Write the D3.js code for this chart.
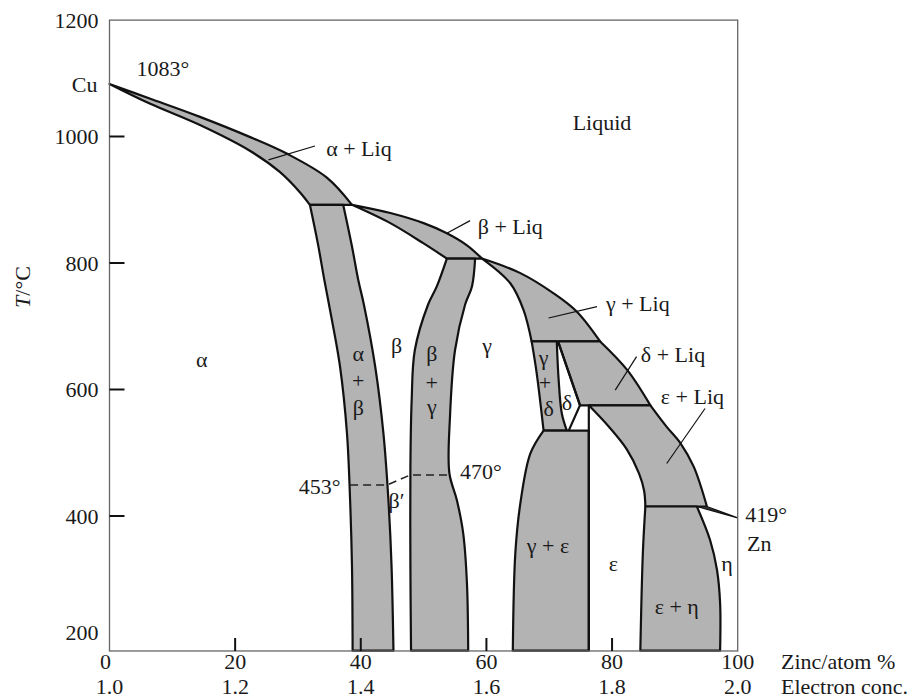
<!DOCTYPE html>
<html>
<head>
<meta charset="utf-8">
<script src="https://cdn.jsdelivr.net/npm/d3@7"></script>
<style>
  body { margin: 0; background: #fff; }
  text { font-family: "Liberation Serif", "DejaVu Serif", serif; font-size: 22px; fill: #1a1a1a; }
</style>
</head>
<body>
<div id="chart"></div>
<script>
// axis ticks
const znTicks = [0, 20, 40, 60, 80, 100];
const econcTicks = [1.0, 1.2, 1.4, 1.6, 1.8, 2.0];
const tempTicks = [200, 400, 600, 800, 1000, 1200];
const tempMarks = [400, 600, 800, 1000];
const tTop = 1184, tBottom = 186.6;

// phase boundaries, [Zn atom %, T in °C]
const liqAlpha   = [[0,1083],[6.4,1060],[14.4,1031],[22.4,999],[28.2,973],[34.6,935],[38.6,892]];
const solAlpha   = [[0,1083],[6.4,1052],[14.4,1018],[22.4,977],[27.1,944],[30.3,912],[31.9,892]];
const alphaSolvus= [[31.9,892],[33.2,829],[34.2,773],[35.1,726],[36.7,636],[37.8,531],[38.3,425],[38.6,320],[38.7,187]];
const betaLeft   = [[37.2,892],[38.6,826],[39.6,773],[40.5,734],[42.3,636],[43.6,531],[44.4,425],[44.9,320],[45.2,187]];
const liqBeta    = [[38.6,892],[44.7,879],[50.0,863],[53.7,847],[56.9,828],[59.3,807]];
const solBeta    = [[38.6,892],[44.7,863],[50.0,831],[53.7,807]];
const betaRight  = [[53.7,807],[52.1,763],[50.7,734],[48.6,662],[48.1,583],[47.9,478],[47.9,320],[48.0,187]];
const gammaLeft  = [[58.2,807],[57.7,763],[56.6,734],[55.0,662],[54.2,557],[54.1,468],[55.3,425],[56.3,373],[56.9,294],[57.1,187]];
const liqGamma   = [[59.3,807],[65.4,784],[70.7,752],[74.4,723],[78.1,676]];
const solGamma   = [[59.3,807],[63.8,768],[65.9,726],[67.2,676]];
const gammaDelta = [[67.2,676],[68.0,626],[69.1,535]];
const deltaLeft  = [[71.2,676],[71.5,615],[72.0,562],[72.8,535]];
const deltaRight = [[71.4,676],[74.9,575],[73.1,535]];
const liqDelta   = [[78.1,676],[82.4,631],[86.1,575]];
const epsLeft    = [[76.3,575],[76.3,187]];
const gammaEps   = [[69.1,535],[67.0,499],[65.4,420],[64.6,341],[64.2,187]];
const liqEps     = [[86.1,575],[88.7,541],[90.9,515],[93.0,478],[95.1,415]];
const solEps     = [[76.3,575],[79.5,541],[82.3,506],[84.3,467],[85.1,440],[85.3,415]];
const epsEta     = [[85.3,415],[84.9,341],[84.5,187]];
const etaSolvus  = [[93.5,415],[95.6,362],[96.7,315],[97.2,262],[97.2,187]];
const etaLiq     = [[93.5,415],[95.1,415],[100,397]];
const orderLine  = [[38.3,449],[44.2,449],[47.9,465],[54.1,465]];

// labels [text, Zn %, T]
const labels = [
  ["Liquid", 78.4, 1022], ["α + Liq", 39.7, 982], ["β + Liq", 63.8, 858],
  ["γ + Liq", 84.1, 737], ["δ + Liq", 89.7, 655], ["ε + Liq", 92.8, 590],
  ["α", 14.7, 647], ["α", 39.6, 658], ["+", 39.6, 615], ["β", 39.6, 572],
  ["β", 45.7, 670], ["β", 51.3, 658], ["+", 51.3, 612], ["γ", 51.3, 573],
  ["γ", 60.1, 670], ["γ", 69.1, 651], ["+", 69.3, 612], ["δ", 69.9, 571],
  ["δ", 72.8, 579], ["β′", 45.7, 425], ["γ + ε", 69.8, 354], ["ε", 80.2, 325],
  ["ε + η", 90.3, 257], ["η", 98.3, 325]
];
const leaders = [
  [[25.3,963],[32.7,985]], [[53.7,847],[57.4,867]], [[69.9,713],[77.6,731]],
  [[80.5,599],[83.9,652]], [[88.7,483],[94.8,570]]
];

const svg = d3.select("#chart").append("svg")
  .attr("width", 912).attr("height", 698);

const x = d3.scaleLinear().domain([0, 100]).range([109.5, 737.7]);
const xe = d3.scaleLinear().domain([1, 2]).range([109.5, 737.7]);
const y = d3.scaleLinear().domain([200, 1200]).range([642.5, 10]);

const smooth = d3.line().x(d => x(d[0])).y(d => y(d[1])).curve(d3.curveCatmullRom.alpha(0.5));
const straight = d3.line().x(d => x(d[0])).y(d => y(d[1]));
const rev = a => a.slice().reverse();

// join boundary pieces into one closed outline
function region(...segs) {
  return segs.map((s, i) => {
    const p = smooth(s);
    return i > 0 ? "L" + p.slice(1) : p;
  }).join("") + "Z";
}

const regions = [
  region(liqAlpha, [[38.6,892],[31.9,892]], rev(solAlpha)),
  region([[31.9,892],[37.2,892]], betaLeft, [[45.2,187],[38.7,187]], rev(alphaSolvus)),
  region(liqBeta, [[59.3,807],[53.7,807]], rev(solBeta)),
  region([[53.7,807],[58.2,807]], gammaLeft, [[57.1,187],[48.0,187]], rev(betaRight)),
  region(liqGamma, [[78.1,676],[67.2,676]], rev(solGamma)),
  region([[67.2,676],[71.2,676]], deltaLeft, [[72.8,535],[69.1,535]], rev(gammaDelta)),
  region([[71.4,676],[78.1,676]], liqDelta, [[86.1,575],[74.9,575]], [[74.9,575],[71.4,676]]),
  region([[76.3,575],[86.1,575]], liqEps, [[95.1,415],[85.3,415]], rev(solEps)),
  region([[69.1,535],[76.3,535]], [[76.3,535],[76.3,187]], [[76.3,187],[64.2,187]], rev(gammaEps)),
  region([[85.3,415],[93.5,415]], etaSolvus, [[97.2,187],[84.5,187]], rev(epsEta))
];

svg.append("g").selectAll("path")
  .data(regions)
  .enter().append("path")
    .attr("d", d => d)
    .attr("fill", "#b3b3b3")
    .attr("stroke", "#111")
    .attr("stroke-width", 2.2)
    .attr("stroke-linejoin", "round");

// thin liquid + eta wedge at the Zn end
svg.append("path")
  .attr("d", straight(etaLiq) + "Z")
  .attr("fill", "#333").attr("stroke", "#111").attr("stroke-width", 1.2);

// lines not on a shaded edge
[deltaRight, epsLeft].forEach(l => {
  svg.append("path").attr("d", straight(l))
    .attr("fill", "none").attr("stroke", "#111").attr("stroke-width", 2.2);
});

svg.append("path").attr("d", straight(orderLine))
  .attr("fill", "none").attr("stroke", "#222").attr("stroke-width", 1.5)
  .attr("stroke-dasharray", "8,5");

// frame
svg.append("rect")
  .attr("x", x(0)).attr("y", y(tTop))
  .attr("width", x(100) - x(0)).attr("height", y(tBottom) - y(tTop))
  .attr("fill", "none").attr("stroke", "#666").attr("stroke-width", 1.3);

// tick marks
svg.append("g").selectAll("line").data(tempMarks).enter().append("line")
  .attr("x1", x(0)).attr("x2", x(0) + 15)
  .attr("y1", d => y(d)).attr("y2", d => y(d))
  .attr("stroke", "#111").attr("stroke-width", 2);
svg.append("g").selectAll("line").data(znTicks.slice(1, -1)).enter().append("line")
  .attr("x1", d => x(d)).attr("x2", d => x(d))
  .attr("y1", y(tBottom)).attr("y2", y(tBottom) - 13)
  .attr("stroke", "#111").attr("stroke-width", 2);

// tick labels
svg.append("g").selectAll("text").data(tempTicks).enter().append("text")
  .attr("x", x(0) - 11)
  .attr("y", d => d === 1200 ? y(tTop) : d === 200 ? y(tBottom) - 19 : y(d))
  .attr("dy", "0.35em")
  .attr("text-anchor", "end")
  .text(d => d);
svg.append("g").selectAll("text").data(znTicks).enter().append("text")
  .attr("x", d => x(d) - (d === 0 ? 4 : 0)).attr("y", 669)
  .attr("text-anchor", "middle")
  .text(d => d);
svg.append("g").selectAll("text").data(econcTicks).enter().append("text")
  .attr("x", d => xe(d)).attr("y", 694)
  .attr("text-anchor", "middle")
  .text(d => d.toFixed(1));

svg.append("text").attr("x", 781).attr("y", 669).text("Zinc/atom %");
svg.append("text").attr("x", 781).attr("y", 694).text("Electron conc.");

const yt = svg.append("text")
  .attr("transform", "translate(30,287) rotate(-90)")
  .attr("text-anchor", "middle");
yt.append("tspan").attr("font-style", "italic").text("T");
yt.append("tspan").text("/°C");

// end points
svg.append("text").attr("x", x(0) - 12).attr("y", y(1083)).attr("dy", "0.35em")
  .attr("text-anchor", "end").text("Cu");
svg.append("text").attr("x", x(4.3)).attr("y", y(1108)).attr("dy", "0.35em").text("1083°");
svg.append("text").attr("x", x(101.2)).attr("y", y(402)).attr("dy", "0.35em").text("419°");
svg.append("text").attr("x", x(101.5)).attr("y", y(357)).attr("dy", "0.35em").text("Zn");
svg.append("text").attr("x", x(36.8)).attr("y", y(447)).attr("dy", "0.35em")
  .attr("text-anchor", "end").text("453°");
svg.append("text").attr("x", x(55.8)).attr("y", y(470)).attr("dy", "0.35em").text("470°");

// region labels
svg.append("g").selectAll("text").data(labels).enter().append("text")
  .attr("x", d => x(d[1])).attr("y", d => y(d[2]))
  .attr("dy", "0.35em")
  .attr("text-anchor", "middle")
  .text(d => d[0]);

svg.append("g").selectAll("path").data(leaders).enter().append("path")
  .attr("d", d => straight(d))
  .attr("stroke", "#111").attr("stroke-width", 1.2);
</script>
</body>
</html>
